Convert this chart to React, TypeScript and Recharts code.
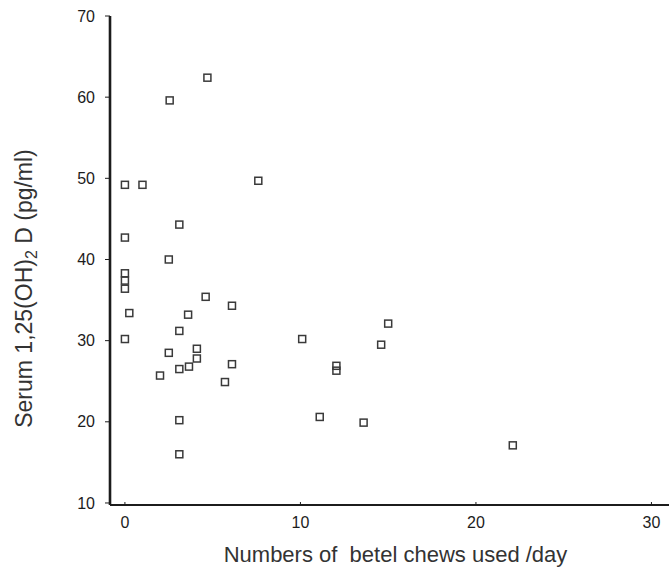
import React from "react";
import { Label, Scatter, ScatterChart, XAxis, YAxis } from "recharts";

// values
const chewsPerDay = [
  0, 1.0, 7.6, 3.1, 0, 2.5, 0, 0, 0, 4.6, 6.1, 0.25, 3.6, 3.1, 0, 2.5, 4.1, 4.1,
  3.1, 3.65, 6.1, 2.0, 5.7, 3.1, 3.1, 4.7, 2.55, 15.0, 10.1, 14.6, 12.05, 12.05,
  11.1, 13.6, 22.1,
];
const serumLevels = [
  49.2, 49.2, 49.7, 44.3, 42.7, 40.0, 38.3, 37.4, 36.4, 35.4, 34.3, 33.4, 33.2,
  31.2, 30.2, 28.5, 29.0, 27.8, 26.5, 26.8, 27.1, 25.7, 24.9, 20.2, 16.0, 62.4,
  59.6, 32.1, 30.2, 29.5, 26.9, 26.3, 20.6, 19.9, 17.1,
];
const xTicks = [0, 10, 20, 30];
const yTicks = [10, 20, 30, 40, 50, 60, 70];

const data = chewsPerDay.map((x, i) => ({ x, y: serumLevels[i] }));

const ink = "#1c1c1c";
const font = "'Liberation Sans', Arial, sans-serif";

const Square = (p: any) => (
  <rect
    x={p.cx - 3.5}
    y={p.cy - 3.5}
    width={7}
    height={7}
    fill="none"
    stroke="#3a3a3a"
    strokeWidth={1.5}
  />
);

const YTitle = (props: any) => {
  const vb = props.viewBox || { x: 0, y: 16, width: 110, height: 489 };
  const cx = vb.x + 32;
  const cy = vb.y + vb.height / 2 + 28;
  return (
    <text
      transform={`translate(${cx}, ${cy}) rotate(-90)`}
      textAnchor="middle"
      fontSize={23}
      fill="#333"
      fontFamily={font}
    >
      Serum 1,25(OH)
      <tspan dy={5} fontSize={16}>2</tspan>
      <tspan dy={-5}> D (pg/ml)</tspan>
    </text>
  );
};

export default function App() {
  return (
    <div style={{ position: "absolute", left: 0, top: 0, background: "#fff", fontFamily: font }}>
      <ScatterChart width={669} height={568} margin={{ top: 16, right: 0, left: 0, bottom: 0 }}>
        <XAxis
          type="number"
          dataKey="x"
          domain={[-0.85, 31]}
          ticks={xTicks}
          height={63}
          stroke={ink}
          axisLine={{ stroke: ink, strokeWidth: 2.2 }}
          tickSize={-3}
          tickMargin={15}
          tick={{ fontSize: 16, fill: ink, fontFamily: font }}
        >
          <Label
            value={"Numbers of \u00a0betel chews used /day"}
            position="insideBottom"
            offset={6}
            dx={6}
            style={{ fontSize: 22, fill: "#333", fontFamily: font }}
          />
        </XAxis>
        <YAxis
          type="number"
          dataKey="y"
          domain={[9.75, 70]}
          ticks={yTicks}
          width={110}
          stroke={ink}
          axisLine={{ stroke: ink, strokeWidth: 2.6 }}
          tickSize={5}
          tickMargin={10}
          tick={{ fontSize: 16, fill: ink, fontFamily: font }}
        >
          <Label content={<YTitle />} />
        </YAxis>
        <Scatter data={data} shape={<Square />} isAnimationActive={false} />
      </ScatterChart>
    </div>
  );
}
